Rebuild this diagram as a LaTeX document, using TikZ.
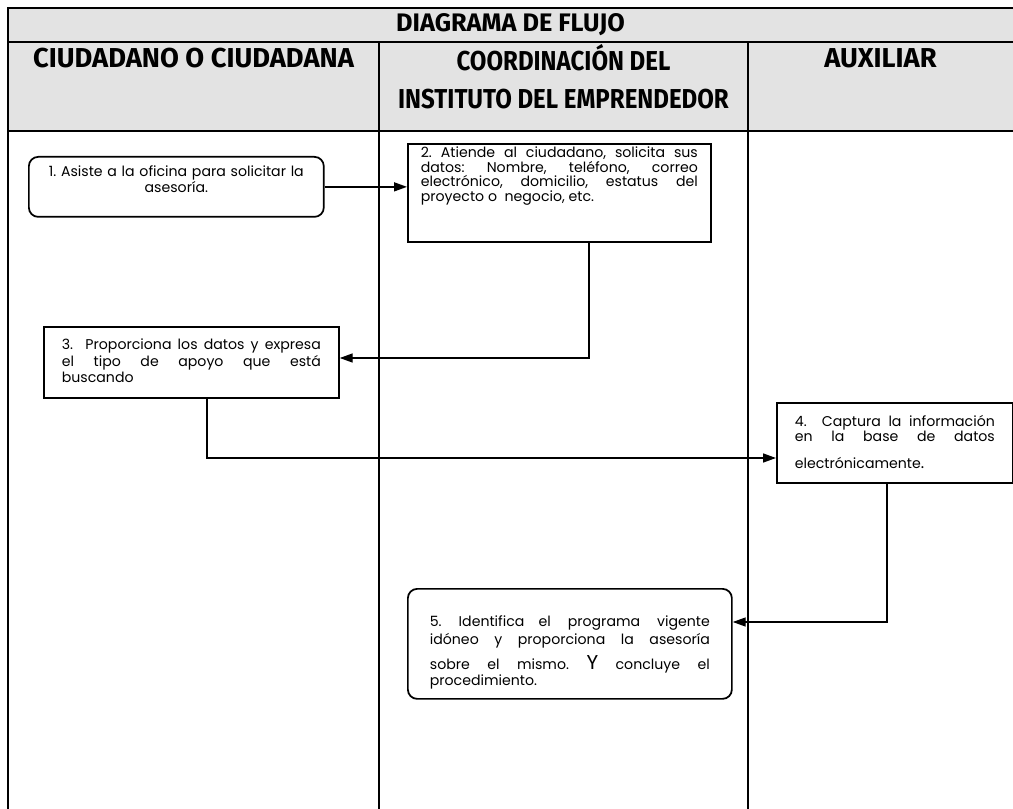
\documentclass[tikz,border=0pt]{standalone}
\usepackage{fontspec}
\setmainfont{Poppins}
\newfontfamily\headfont{Fira Sans}
\newfontfamily\headnarrow[FakeStretch=0.88]{Fira Sans}
\usetikzlibrary{positioning,arrows.meta}
\definecolor{headgray}{HTML}{E3E3E3}
\frenchspacing
\lineskiplimit=-10pt

\begin{document}
\begin{tikzpicture}[
  x=0.75pt, y=-0.75pt,
  grid/.style={line width=0.9pt},
  head/.style={font=\headfont\bfseries\fontsize{20.5}{28.5}\selectfont, align=center},
  stepbox/.style={draw, line width=1.3pt, anchor=north west, inner ysep=0pt,
                  align=justify, font=\fontsize{10.6}{10.9}\selectfont},
  roundbox/.style={stepbox, rounded corners=7pt},
  flow/.style={line width=1.1pt, -{Triangle[length=9.75pt,width=6.75pt]}}
]
  \useasboundingbox (0,0) rectangle (1013,809);

  % Table
  \fill[headgray] (8,8) rectangle (1013,131);
  \draw[grid] (1013,8) -- (8,8) -- (8,809);
  \draw[grid] (8,42) -- (1013,42);
  \draw[grid] (8,131) -- (1013,131);
  \draw[grid] (379,42) -- (379,809);
  \draw[grid] (748,42) -- (748,809);

  % Headings
  \node[head, font=\headfont\bfseries\fontsize{19}{19}\selectfont] (title) at (510.5,25) {DIAGRAMA DE FLUJO};
  \node[head] (lane1) at (193.5,58) {CIUDADANO O CIUDADANA};
  \node[head, font=\headnarrow\bfseries\fontsize{20.5}{28.5}\selectfont] (lane2) at (563.5,77)
    {COORDINACIÓN DEL\\INSTITUTO DEL EMPRENDEDOR};
  \node[head] (lane3) at (880.5,58) {AUXILIAR};

  % Steps
  \node[roundbox, align=center, text width=195pt, inner xsep=13.1pt,
        text height=14.6pt, text depth=30.4pt,
        font=\fontsize{10.6}{9.8}\selectfont] (b1) at (28,156)
    {1. Asiste a la oficina para solicitar la\\ asesoría.};
  \node[stepbox, text width=207.75pt, inner xsep=9.75pt,
        text height=10.5pt, text depth=63pt] (b2) at (407,143)
    {2. Atiende al ciudadano, solicita sus\linebreak
     datos: Nombre, teléfono, correo\linebreak
     electrónico, domicilio, estatus del\linebreak
     proyecto o~ negocio, etc.};
  \node[stepbox, text width=194.25pt, inner xsep=13.5pt,
        text height=17.25pt, text depth=36pt,
        font=\fontsize{10.6}{12.4}\selectfont] (b3) at (43,326)
    {3.~ Proporciona los datos y expresa\linebreak
     el tipo de apoyo que está\linebreak
     buscando};
  \node[stepbox, text width=150pt, inner xsep=13.5pt,
        text height=18pt, text depth=42pt,
        font=\fontsize{10.6}{11.2}\selectfont] (b4) at (776,402)
    {4.~ Captura la información\linebreak
     en la base de datos\vspace{9pt}\linebreak
     electrónicamente{\large.}};
  \node[roundbox, text width=210pt, inner xsep=16.5pt,
        text height=28.5pt, text depth=54pt,
        font=\fontsize{10.6}{9.6}\selectfont] (b5) at (407,588)
    {5. Identifica\quad el programa vigente\vspace{0.9pt}\linebreak
     idóneo y proporciona la asesoría\vspace{4.6pt}\linebreak
     sobre el mismo. {\fontsize{15}{12}\selectfont Y} concluye el\linebreak
     procedimiento.};

  % Bends
  \coordinate (k2) at (589,358);
  \coordinate (k3) at (207,458);
  \coordinate (k4) at (887,622);

  % Connectors
  \draw[flow] (b1.east) -- (b2.west |- b1.east);
  \draw[flow] (b2.south -| k2) -- (k2) -- (b3.east |- k2);
  \draw[flow] (b3.south -| k3) -- (k3) -- (b4.west |- k3);
  \draw[flow] (b4.south -| k4) -- (k4) -- (b5.east |- k4);
\end{tikzpicture}
\end{document}
